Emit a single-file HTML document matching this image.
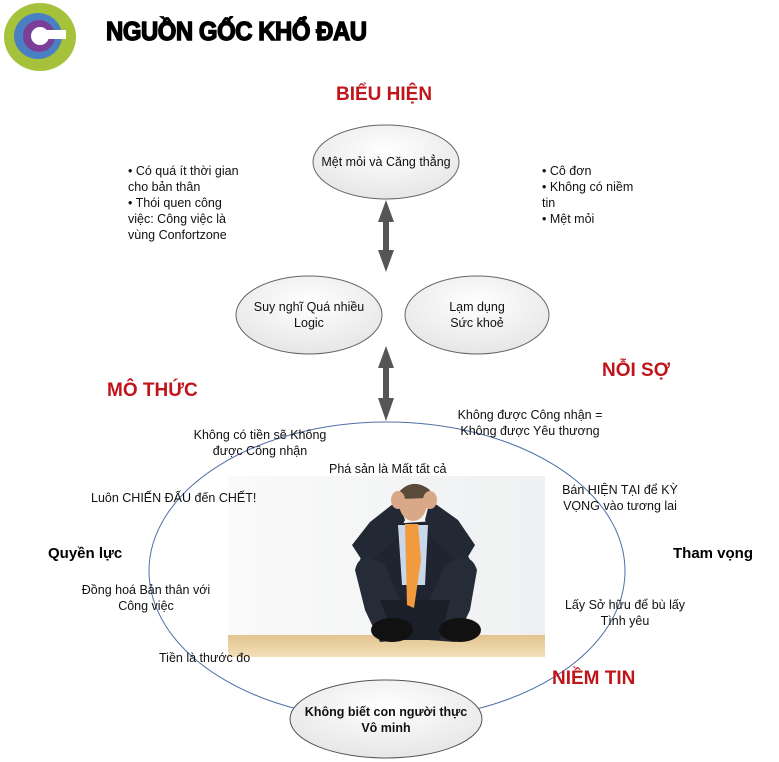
<!DOCTYPE html>
<html><head><meta charset="utf-8"><style>
body{margin:0;width:779px;height:762px;background:#fff;position:relative;overflow:hidden;font-family:"Liberation Sans",Arial,sans-serif;}
.t{position:absolute;font-size:12.5px;color:#111;line-height:16px;white-space:nowrap}
.c{text-align:center}
.h{position:absolute;font-weight:bold;color:#c0151b;font-size:19px;white-space:nowrap}
.b{position:absolute;font-weight:bold;font-size:15px;color:#000;white-space:nowrap}
</style></head><body>
<svg width="779" height="762" style="position:absolute;left:0;top:0">
<defs>
<radialGradient id="g" cx="50%" cy="35%" r="65%"><stop offset="0" stop-color="#fff"/><stop offset="1" stop-color="#e6e6e6"/></radialGradient>
<linearGradient id="fl" x1="0" y1="0" x2="0" y2="1"><stop offset="0" stop-color="#e2c490"/><stop offset="1" stop-color="#f2dfb8"/></linearGradient>
<linearGradient id="wall" x1="0" y1="0" x2="1" y2="0"><stop offset="0" stop-color="#fafafa"/><stop offset="1" stop-color="#eef0f1"/></linearGradient>
</defs>
<!-- logo -->
<ellipse cx="40" cy="37" rx="36" ry="34" fill="#a6c23a"/>
<ellipse cx="38" cy="36" rx="24" ry="23" fill="#4b7fc4"/>
<ellipse cx="39" cy="36" rx="16" ry="16" fill="#7b3f97"/>
<ellipse cx="40" cy="36" rx="9" ry="9" fill="#fff"/>
<rect x="44" y="30" width="22" height="9" fill="#fff"/>
<!-- photo -->
<rect x="228" y="476" width="317" height="181" fill="url(#wall)"/>
<rect x="228" y="635" width="317" height="22" fill="url(#fl)"/>
<!-- torso -->
<path d="M375 525 L450 520 L470 560 L465 600 L370 600 L360 560 Z" fill="#1f2430"/>
<!-- arms -->
<path d="M398 500 L370 522 L352 545 L365 565 L395 540 L405 520 Z" fill="#232835"/>
<path d="M430 500 L458 520 L475 545 L463 565 L433 540 L425 520 Z" fill="#232835"/>
<!-- legs -->
<path d="M355 570 Q360 548 385 565 L400 600 L405 640 L380 642 L365 610 Z" fill="#262b38"/>
<path d="M477 570 Q470 548 445 565 L430 600 L428 640 L455 642 L470 610 Z" fill="#262b38"/>
<path d="M380 600 L450 600 L440 640 L395 640 Z" fill="#1b1f29"/>
<!-- shirt & tie -->
<path d="M398 525 L428 525 L425 585 L402 585 Z" fill="#c9d7ea"/>
<path d="M405 524 L418 524 L421 560 L414 608 L407 605 Z" fill="#f19a3e"/>
<!-- head & hands -->
<ellipse cx="413" cy="503" rx="14" ry="18" fill="#d9a888"/>
<path d="M397 494 Q412 476 430 490 L428 498 L399 499 Z" fill="#5a4a3a"/>
<ellipse cx="398" cy="500" rx="7" ry="9" fill="#d9a888"/>
<ellipse cx="430" cy="500" rx="7" ry="9" fill="#d9a888"/>
<!-- shoes -->
<ellipse cx="392" cy="630" rx="21" ry="12" fill="#111"/>
<ellipse cx="460" cy="630" rx="21" ry="12" fill="#111"/>
<!-- big ellipse -->
<ellipse cx="387" cy="571" rx="238" ry="149" fill="none" stroke="#4f6fa8" stroke-width="1"/>
<!-- node ellipses -->
<ellipse cx="386" cy="162" rx="73" ry="37" fill="url(#g)" stroke="#666"/>
<ellipse cx="309" cy="315" rx="73" ry="39" fill="url(#g)" stroke="#666"/>
<ellipse cx="477" cy="315" rx="72" ry="39" fill="url(#g)" stroke="#666"/>
<ellipse cx="386" cy="719" rx="96" ry="39" fill="url(#g)" stroke="#555"/>
<!-- arrows -->
<g fill="#555">
<rect x="383" y="212" width="6" height="48"/>
<polygon points="386,200 378,222 394,222"/>
<polygon points="386,272 378,250 394,250"/>
<rect x="383" y="358" width="6" height="50"/>
<polygon points="386,346 378,368 394,368"/>
<polygon points="386,421 378,398 394,398"/>
</g>
</svg>
<div style="position:absolute;left:106px;top:16px;font-size:26px;font-weight:900;font-family:'Liberation Sans',sans-serif;letter-spacing:-0.5px;transform:scaleX(0.92);transform-origin:left;-webkit-text-stroke:1.4px #000">NGUỒN GỐC KHỔ ĐAU</div>
<div class="h" style="left:336px;top:84px">BIỂU HIỆN</div>
<div class="h" style="left:107px;top:380px">MÔ THỨC</div>
<div class="h" style="left:602px;top:360px">NỖI SỢ</div>
<div class="h" style="left:552px;top:668px">NIỀM TIN</div>
<div class="b" style="left:48px;top:545px">Quyền lực</div>
<div class="b" style="left:673px;top:545px">Tham vọng</div>
<div class="t c" style="left:313px;top:154px;width:146px">Mệt mỏi và Căng thẳng</div>
<div class="t c" style="left:236px;top:299px;width:146px">Suy nghĩ Quá nhiều<br>Logic</div>
<div class="t c" style="left:405px;top:299px;width:144px">Lạm dụng<br>Sức khoẻ</div>
<div class="t c" style="left:290px;top:704px;width:192px;font-weight:bold">Không biết con người thực<br>Vô minh</div>
<div class="t" style="left:128px;top:163px">• Có quá ít thời gian<br>cho bản thân<br>• Thói quen công<br>việc: Công việc là<br>vùng Confortzone</div>
<div class="t" style="left:542px;top:163px">• Cô đơn<br>• Không có niềm<br>tin<br>• Mệt mỏi</div>
<div class="t c" style="left:180px;top:427px;width:160px">Không có tiền sẽ Không<br>được Công nhận</div>
<div class="t c" style="left:445px;top:407px;width:170px">Không được Công nhận =<br>Không được Yêu thương</div>
<div class="t" style="left:329px;top:461px">Phá sản là Mất tất cả</div>
<div class="t" style="left:91px;top:490px">Luôn CHIẾN ĐẤU đến CHẾT!</div>
<div class="t c" style="left:540px;top:482px;width:160px">Bán HIỆN TẠI để KỲ<br>VỌNG vào tương lai</div>
<div class="t c" style="left:70px;top:582px;width:152px">Đồng hoá Bản thân với<br>Công việc</div>
<div class="t c" style="left:550px;top:597px;width:150px">Lấy Sở hữu để bù lấy<br>Tình yêu</div>
<div class="t" style="left:159px;top:650px">Tiền là thước đo</div>
</body></html>
